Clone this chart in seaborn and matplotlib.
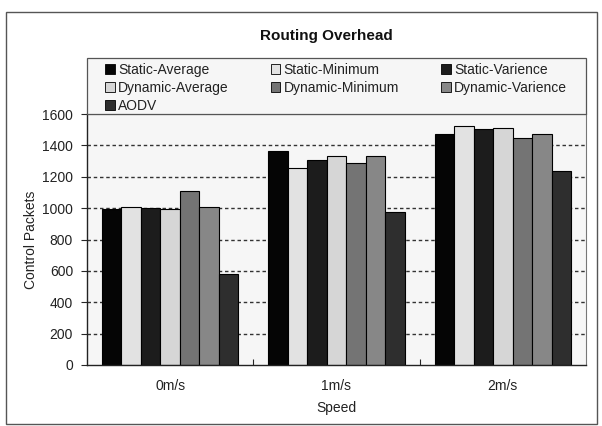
import matplotlib
matplotlib.use("Agg")
import matplotlib.pyplot as plt
import seaborn as sns
import pandas as pd
from matplotlib.patches import Rectangle, Patch

speeds = ["0m/s", "1m/s", "2m/s"]
series = ["Static-Average", "Static-Minimum", "Static-Varience",
          "Dynamic-Average", "Dynamic-Minimum", "Dynamic-Varience", "AODV"]
static_average = [995, 1365, 1470]
static_minimum = [1010, 1253, 1525]
static_varience = [1003, 1306, 1502]
dynamic_average = [993, 1334, 1508]
dynamic_minimum = [1110, 1285, 1449]
dynamic_varience = [1010, 1334, 1470]
aodv = [578, 975, 1238]
yticks = [0, 200, 400, 600, 800, 1000, 1200, 1400, 1600]

values = [static_average, static_minimum, static_varience,
          dynamic_average, dynamic_minimum, dynamic_varience, aodv]
colors = ["#050505", "#e2e2e2", "#1c1c1c", "#d6d6d6", "#747474", "#878787", "#2e2e2e"]

rows = []
for s, vals in zip(series, values):
    for sp, v in zip(speeds, vals):
        rows.append({"Speed": sp, "Series": s, "Value": v})
df = pd.DataFrame(rows)

sns.set_style("white")
plt.rcParams['font.family'] = ['Liberation Sans', 'DejaVu Sans']

FS = 10
fig = plt.figure(figsize=(6.02, 4.26), dpi=100)
fig.patch.set_facecolor("white")
ax = fig.add_axes([87/602, 1 - 365/426, (586-87)/602, (365-114)/426])
ax.set_facecolor("#f6f6f6")

sns.barplot(data=df, x="Speed", y="Value", hue="Series", order=speeds,
            hue_order=series, palette=colors, width=0.82, gap=0,
            edgecolor="black", linewidth=0.8, saturation=1, ax=ax, legend=False)

ax.set_ylim(0, 1600)
ax.set_xlim(-0.5, 2.5)
ax.set_yticks(yticks)
ax.set_yticklabels([str(t) for t in yticks], fontsize=FS, color="#222222")
ax.tick_params(axis="y", length=4, width=0.8, direction="out", pad=6, left=True)
ax.tick_params(axis="x", which="major", length=0, labelsize=FS, pad=10, labelcolor="#222222")
ax.set_xticks([0.5, 1.5], minor=True)
ax.tick_params(axis="x", which="minor", length=4, direction="in", bottom=True, width=0.8)
for t in yticks[1:-1]:
    ax.axhline(t, color="#333333", lw=1.0, ls=(0, (2.5, 2)), zorder=0)
ax.set_axisbelow(True)

for side in ["left", "bottom"]:
    ax.spines[side].set_color("#222222")
    ax.spines[side].set_linewidth(1.0)
for side in ["right", "top"]:
    ax.spines[side].set_color("#777777")
    ax.spines[side].set_linewidth(0.8)

ax.set_xlabel("Speed", fontsize=FS, labelpad=6, color="#222222")
ax.set_ylabel("Control Packets", fontsize=FS, labelpad=3, color="#222222")

# legend box
x0, x1 = 87/602, 586/602
y0, y1 = 1 - 114/426, 1 - 58/426
fig.patches.append(Rectangle((x0, y0), x1 - x0, y1 - y0, transform=fig.transFigure,
                             facecolor="#f6f6f6", edgecolor="#555555", lw=0.9, zorder=0))
handles = {s: Patch(facecolor=c, edgecolor="black", lw=0.6) for s, c in zip(series, colors)}
order = ["Static-Average", "Dynamic-Average", "AODV",
         "Static-Minimum", "Dynamic-Minimum",
         "Static-Varience", "Dynamic-Varience"]
fig.legend([handles[o] for o in order], order, loc="upper left",
           bbox_to_anchor=(105/602, 1 - 63/426, (567-105)/602, 0.001), mode="expand",
           ncol=3, frameon=False, fontsize=FS, handlelength=0.7, handleheight=0.7,
           handletextpad=0.25, borderpad=0, borderaxespad=0, labelspacing=0.3,
           labelcolor="#222222")

fig.text(326/602, 1 - 36/426, "Routing Overhead", ha="center", va="center",
         fontsize=11, fontweight="bold", color="#111111")

# outer frame
fig.patches.append(Rectangle((6/602, 2/426), 591/602, 412/426, transform=fig.transFigure,
                             facecolor="none", edgecolor="#555555", lw=1.0))

fig.savefig("out.png", dpi=100)
